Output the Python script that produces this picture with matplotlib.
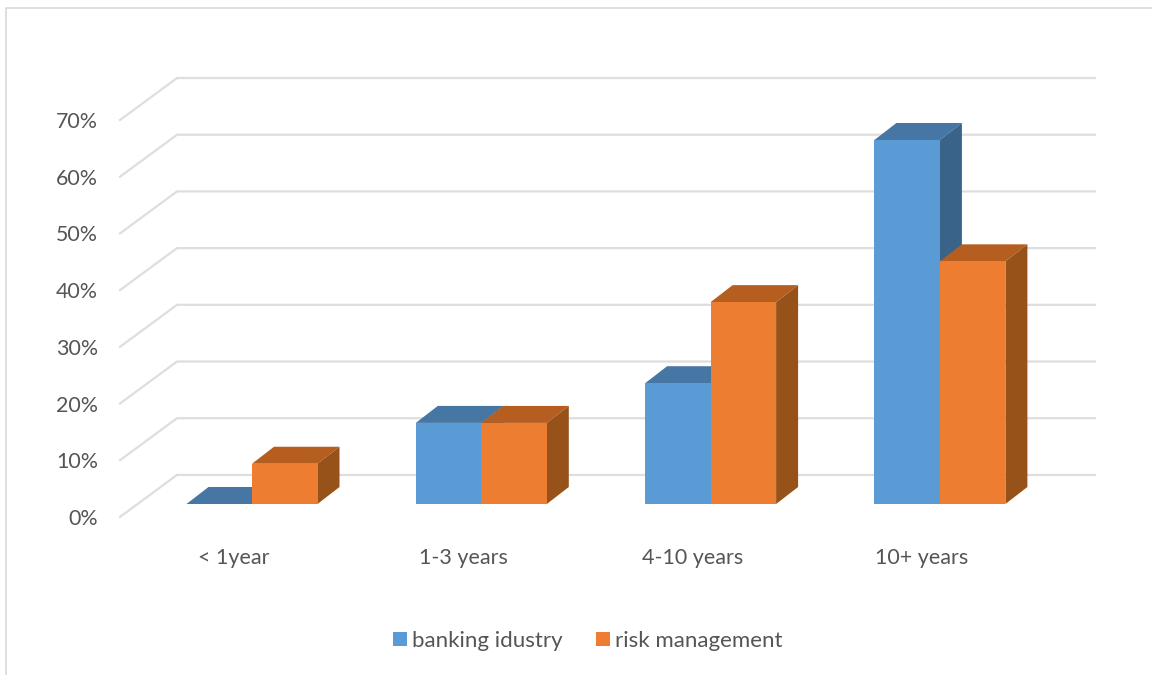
import matplotlib
matplotlib.use('Agg')
import matplotlib.pyplot as plt
from matplotlib.patches import Patch, Polygon, Rectangle

plt.rcParams['font.family'] = ['Lato', 'DejaVu Sans']

categories = ['< 1year', '1-3 years', '4-10 years', '10+ years']
banking = [0, 14.3, 21.3, 64.2]
risk = [7.1, 14.3, 35.6, 42.8]
ticks = [0, 10, 20, 30, 40, 50, 60, 70]
series_names = ['banking idustry', 'risk management']

BLUE = ('#5B9BD5', '#4676A3', '#3A638A')
ORANGE = ('#ED7D31', '#B55E20', '#975219')
GRID = '#DEDEDE'
TEXT = '#555555'

W, H = 1152, 675
# one category slot and one percent, in pixels
SLOT = 229.3
PCT = 5.67
X0 = 252.0   # centre of first category
Y0 = 504.0   # baseline of bar fronts

BAR_W = 65.5 / SLOT
DX = 22.0 / SLOT
DY = 17.0 / PCT

fig = plt.figure(figsize=(W / 100, H / 100), dpi=100)
ax = fig.add_axes([0, 0, 1, 1])
# whole figure is one data space: x in category units, y in percent
ax.set_xlim(-X0 / SLOT, (W - X0) / SLOT)
ax.set_ylim(-(H - Y0) / PCT, Y0 / PCT)
ax.axis('off')


def proj(x, y, depth):
    return (x + DX * depth, y + DY * depth)


# depth of the front edge and back wall relative to the bar fronts
WALL_FRONT = -0.76
WALL_BACK = 1.71
GRID_END = (1095 - X0) / SLOT

for t in ticks:
    ya = proj(0, t, WALL_FRONT)[1]
    yb = proj(0, t, WALL_BACK)[1]
    ax.plot([(120 - X0) / SLOT, (177 - X0) / SLOT, GRID_END], [ya, yb, yb], color=GRID, lw=1.6,
            solid_joinstyle='miter', zorder=1)
    ax.text((98 - X0) / SLOT, ya - 2 / PCT, '%d%%' % t, ha='right', va='center',
            fontsize=15.4, color=TEXT)


def bar3d(x, val, cols):
    x1 = x + BAR_W
    front, top, side = cols
    ax.add_patch(Polygon([proj(x, val, 0), proj(x, val, 1), proj(x1, val, 1), proj(x1, val, 0)],
                         closed=True, fc=top, ec='none', zorder=3))
    if val > 0:
        ax.add_patch(Polygon([proj(x1, 0, 0), proj(x1, 0, 1), proj(x1, val, 1), proj(x1, val, 0)],
                             closed=True, fc=side, ec='none', zorder=3))
        ax.add_patch(Rectangle((x, 0), BAR_W, val, fc=front, ec='none', zorder=3))


for i, cat in enumerate(categories):
    bar3d(i - BAR_W, banking[i], BLUE)
    bar3d(i, risk[i], ORANGE)
    ax.text(i - 0.08, (Y0 - 558) / PCT, cat, ha='center', va='center', fontsize=15.5, color=TEXT)

handles = [Patch(fc=BLUE[0], ec='none'), Patch(fc=ORANGE[0], ec='none')]
ax.legend(handles, series_names, loc='center', bbox_to_anchor=(587.5 / W, 1 - 641 / H), ncol=2,
          frameon=False, fontsize=16, labelcolor=TEXT, handlelength=0.63, handleheight=0.63,
          handletextpad=0.23, columnspacing=1.5, borderpad=0)

# chart border along top and left
ax.plot([(6 - X0) / SLOT, (6 - X0) / SLOT, (W - X0) / SLOT],
        [(Y0 - H) / PCT, (Y0 - 8) / PCT, (Y0 - 8) / PCT], color='#D9D9D9', lw=1.2, zorder=1)

fig.savefig('out.png', dpi=100, facecolor='white')
